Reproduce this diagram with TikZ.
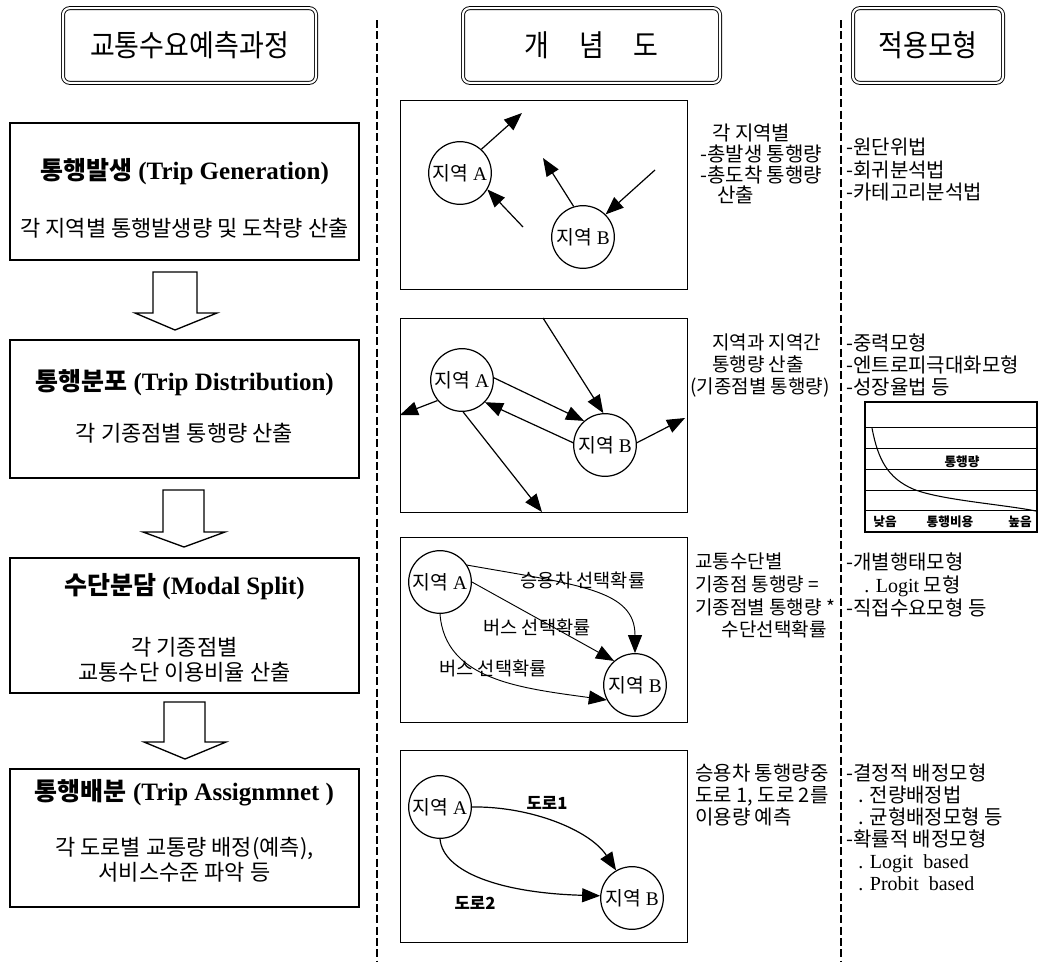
\documentclass[tikz,border=0pt]{standalone}
\usepackage{fontspec}
\setmainfont{Liberation Serif}
\newfontfamily\kr{Noto Sans CJK KR}
\usetikzlibrary{arrows.meta}
\newcommand\K[1]{{\kr #1}}
\begin{document}
\begin{tikzpicture}[x=0.75pt,y=-0.75pt,
  hdrbox/.style={draw, double, double distance=1.6pt, line width=0.7pt, rounded corners=5pt, inner sep=0pt, minimum height=56pt},
  stepbox/.style={draw, line width=1.1pt, minimum width=261.75pt, inner sep=0pt},
  ttl/.style={font=\fontsize{18.75}{22}\selectfont, inner sep=0pt},
  sub/.style={font=\kr\fontsize{16.5}{18.75}\selectfont, align=center, inner sep=0pt},
  blockarrow/.style={draw, line width=1pt, fill=white},
  diabox/.style={draw, line width=0.75pt, minimum width=215.25pt, inner sep=0pt},
  zone/.style={draw, circle, line width=0.9pt, minimum size=47pt, inner sep=0pt, font=\fontsize{14.5}{16}\selectfont},
  arr/.style={-{Triangle[length=13.5pt,width=10.5pt]}, line width=0.9pt},
  lbl/.style={font=\kr\fontsize{14}{16}\selectfont, inner sep=0pt},
  note/.style={font=\kr\fontsize{15}{16.5}\selectfont, align=left, inner sep=0pt, anchor=north west},
  sepline/.style={line width=0.9pt, dash pattern=on 6pt off 2.5pt},
  chartlbl/.style={font=\kr\bfseries\fontsize{9.5}{11}\selectfont, inner sep=0pt}
]
\useasboundingbox (0,0) rectangle (1043,961);

% headers
\node[hdrbox, minimum width=189.75pt] (h1) at (189.5,45.5) {\scalebox{0.9}[1]{\kr\fontsize{22.5}{27}\selectfont 교통수요예측과정}};
\node[hdrbox, minimum width=192.75pt] (h2) at (591.5,45.5) {\scalebox{0.9}[1]{\kr\fontsize{22.5}{27}\selectfont 개\hspace{25pt}념\hspace{25pt}도}};
\node[hdrbox, minimum width=112.5pt] (h3) at (928,45.5) {\scalebox{0.9}[1]{\kr\fontsize{22.5}{27}\selectfont 적용모형}};

% separators
\draw[sepline] (377,20) -- (377,961);
\draw[sepline] (841,20) -- (841,961);

% left step boxes
\node[stepbox, minimum height=102.75pt] (s1) at (184.5,191.5) {};
\node[ttl] (s1t) at (184.5,172) {\K{\bfseries 통행발생} \textbf{(Trip Generation)}};
\node[sub] (s1s) at (184.5,228) {각 지역별 통행발생량 및 도착량 산출};

\node[stepbox, minimum height=103.5pt] (s2) at (184.5,409) {};
\node[ttl] (s2t) at (184.5,383) {\K{\bfseries 통행분포} \textbf{(Trip Distribution)}};
\node[sub] (s2s) at (184.5,433) {각 기종점별 통행량 산출};

\node[stepbox, minimum height=101.25pt] (s3) at (184.5,625.5) {};
\node[ttl] (s3t) at (184.5,587) {\K{\bfseries 수단분담} \textbf{(Modal Split)}};
\node[sub] (s3s) at (184.5,659.5) {각 기종점별\\교통수단 이용비율 산출};

\node[stepbox, minimum height=103.5pt] (s4) at (184.5,838) {};
\node[ttl] (s4t) at (184.5,793) {\K{\bfseries 통행배분} \textbf{(Trip Assignmnet )}};
\node[sub] (s4s) at (184.5,859.5) {각 도로별 교통량 배정(예측),\\서비스수준 파악 등};

% block arrows
\draw[blockarrow] (153,272) -- (197,272) -- (197,313) -- (217,313) -- (175,330) -- (135,313) -- (153,313) -- cycle;
\draw[blockarrow] (163,490) -- (204,490) -- (204,532) -- (225,532) -- (184,547) -- (143,532) -- (163,532) -- cycle;
\draw[blockarrow] (164,702) -- (205,702) -- (205,742) -- (226,742) -- (185,759) -- (144,742) -- (164,742) -- cycle;

% middle boxes
\node[diabox, minimum height=141.75pt] (d1) at (543.5,194.5) {};
\node[diabox, minimum height=145.5pt] (d2) at (543.5,415) {};
\node[diabox, minimum height=138.75pt] (d3) at (543.5,629.5) {};
\node[diabox, minimum height=144pt] (d4) at (543.5,846) {};

% diagram 1
\node[zone] (A1) at (460,173) {\K{지역} A};
\node[zone] (B1) at (583,237) {\K{지역} B};
\coordinate (c1a) at (522,113);
\coordinate (c1b) at (523,227);
\coordinate (c1c) at (543,158);
\coordinate (c1d) at (655,170);
\draw[arr] (A1.48) -- (c1a);
\draw[arr] (c1b) -- (A1.-31);
\draw[arr] (B1.107) -- (c1c);
\draw[arr] (c1d) -- (B1.45);

% diagram 2
\node[zone] (A2) at (462,380) {\K{지역} A};
\node[zone] (B2) at (605,445) {\K{지역} B};
\coordinate (c2a) at (543,318);
\coordinate (c2b) at (400,415);
\coordinate (c2c) at (542,512);
\coordinate (c2d) at (685,418);
\draw[arr] (A2.4) -- (B2.131);
\draw[arr] (B2.176) -- (A2.-44);
\draw[arr] (c2a) -- (B2.93);
\draw[arr] (A2.220) -- (c2b);
\draw[arr] (A2.-88) -- (c2c);
\draw[arr] (B2.4) -- (c2d);

% diagram 3
\node[zone] (A3) at (440,582) {\K{지역} A};
\node[zone] (B3) at (635,685) {\K{지역} B};
\draw[arr, line width=0.7pt] (A3.32) .. controls (580,585) and (635,590) .. (B3.north);
\draw[arr, line width=0.7pt] (A3.0) -- (B3.131);
\draw[arr, line width=0.7pt] (A3.south) .. controls (445,680) and (520,688) .. (B3.208);
\node[lbl] (l3a) at (583,580) {승용차 선택확률};
\node[lbl] (l3b) at (537,627) {버스 선택확률};
\node[lbl] (l3c) at (493,668) {버스 선택확률};

% diagram 4
\node[zone] (A4) at (440,807) {\K{지역} A};
\node[zone] (B4) at (632,898) {\K{지역} B};
\draw[arr] (A4.east) .. controls (530,806) and (590,830) .. (B4.120);
\draw[arr] (A4.south) .. controls (443,872) and (500,893) .. (B4.176);
\node[lbl, font=\kr\bfseries\fontsize{12.5}{15}\selectfont] (l4a) at (547,803) {도로1};
\node[lbl, font=\kr\bfseries\fontsize{12.5}{15}\selectfont] (l4b) at (475,903) {도로2};

% notes (concept)
\node[note, font=\kr\fontsize{15}{15.5}\selectfont] (n1) at (700,124) {\hspace*{9pt}각 지역별\\-총발생 통행량\\-총도착 통행량\\\hspace*{12.75pt}산출};
\node[note, font=\kr\fontsize{14.25}{16.5}\selectfont] (n2) at (690,334) {\hspace*{16.5pt}지역과 지역간\\\hspace*{16.5pt}통행량 산출\\(기종점별 통행량)};
\node[note, font=\kr\fontsize{14.25}{17}\selectfont] (n3) at (695,553) {교통수단별\\기종점 통행량 =\\기종점별 통행량 *\\\hspace*{20pt}수단선택확률};
\node[note] (n4) at (695,764) {승용차 통행량중\\도로 1, 도로 2를\\이용량 예측};

% applied models
\node[note, font=\kr\fontsize{15}{16.9}\selectfont] (r1) at (846,138) {-원단위법\\-회귀분석법\\-카테고리분석법};
\node[note] (r2) at (846,334) {-중력모형\\-엔트로피극대화모형\\-성장율법 등};
\node[note, font=\kr\fontsize{15}{17}\selectfont] (r3) at (846,553) {-개별행태모형\\\hspace*{13.5pt}{\rmfamily . Logit} 모형\\-직접수요모형 등};
\node[note] (r4) at (846,764) {-결정적 배정모형\\\hspace*{9pt}. 전량배정법\\\hspace*{9pt}. 균형배정모형 등\\-확률적 배정모형\\\hspace*{9pt}{\rmfamily . Logit\ \ based}\\\hspace*{9pt}{\rmfamily . Probit\ \ based}};

% chart
\draw[line width=0.8pt] (865,402) rectangle (1037,532);
\foreach \yy in {427,448,469,490,510} \draw[line width=0.7pt] (865,\yy) -- (1037,\yy);
\draw[line width=0.8pt] (872,428) .. controls (878,460) and (888,478) .. (913,489) .. controls (940,500) and (1000,504) .. (1036,511);
\node[chartlbl] (g1) at (962,462) {통행량};
\node[chartlbl] (g2) at (885,522) {낮음};
\node[chartlbl] (g3) at (950,522) {통행비용};
\node[chartlbl] (g4) at (1020,522) {높음};
\end{tikzpicture}
\end{document}
